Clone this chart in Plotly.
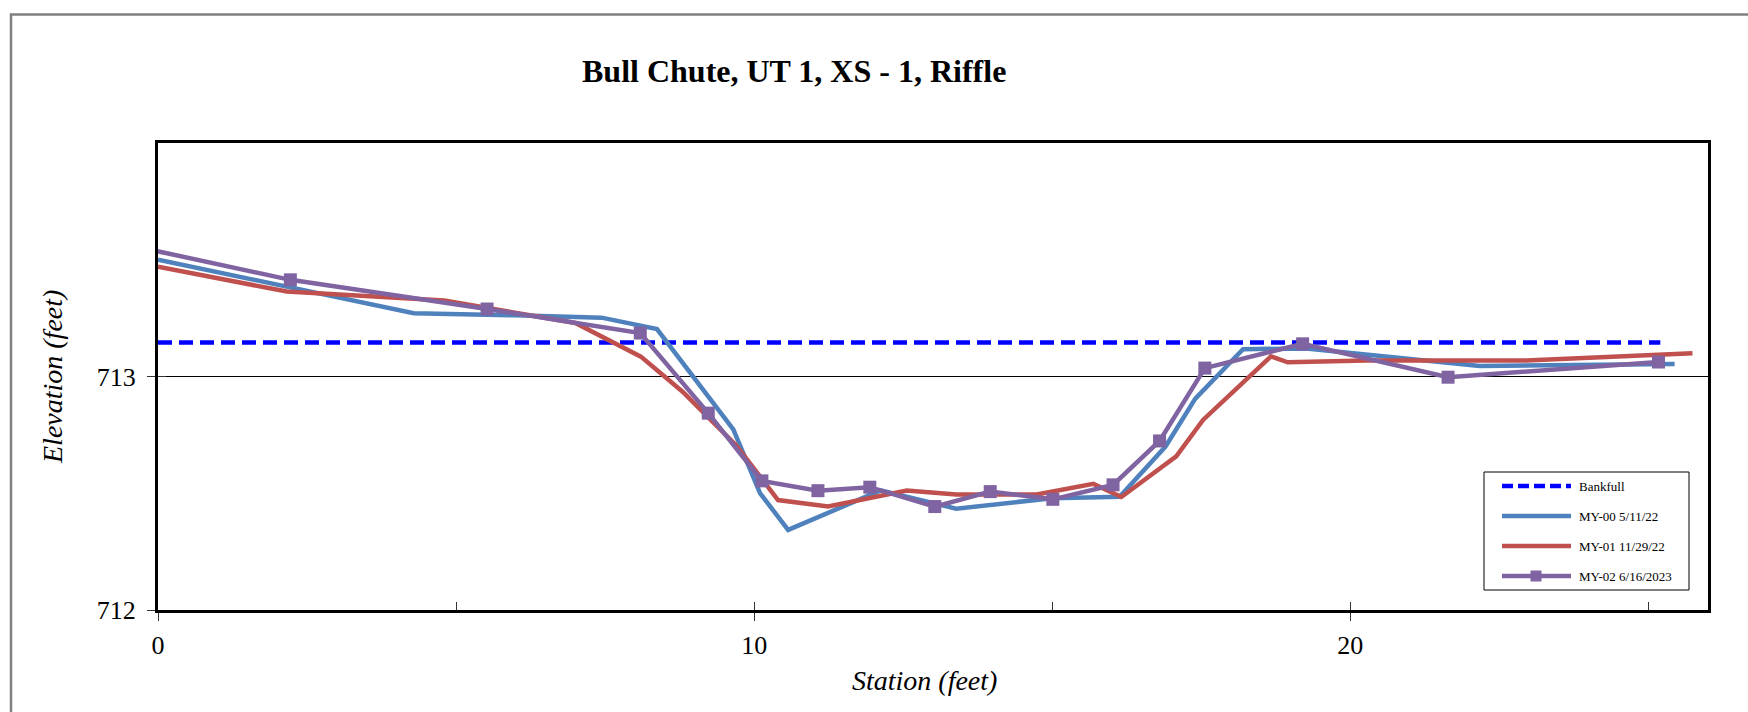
import plotly.graph_objects as go

# ---- survey data: station (ft) vs elevation (ft) ----
bankfull_station = [0.0, 25.2]
bankfull_elev = [713.146, 713.146]

my00_station = [0.0, 2.2, 4.29, 6.0, 7.44, 8.37, 9.65, 10.1, 10.57, 12.12, 13.39,
                15.0, 16.13, 16.9, 17.4, 18.2, 19.26, 22.17, 25.44]
my00_elev = [713.50, 713.383, 713.271, 713.262, 713.252, 713.203, 712.773, 712.50,
             712.343, 712.512, 712.434, 712.479, 712.485, 712.70, 712.905, 713.117,
             713.12, 713.045, 713.053]

my01_station = [0.0, 2.16, 4.8, 7.0, 8.1, 8.8, 9.7, 10.4, 11.24, 12.56, 13.39,
                14.74, 15.69, 16.16, 17.08, 17.53, 18.67, 18.95, 20.27, 22.95, 25.74]
my01_elev = [713.47, 713.364, 713.325, 713.229, 713.085, 712.935, 712.705, 712.471,
             712.443, 712.512, 712.495, 712.495, 712.540, 712.484, 712.658, 712.814,
             713.086, 713.061, 713.069, 713.069, 713.100]

my02_station = [-0.4, 2.22, 5.52, 8.09, 9.23, 10.13, 11.07, 11.94, 13.03, 13.96,
                15.01, 16.02, 16.8, 17.56, 19.2, 21.64, 25.17]
my02_elev = [713.558, 713.414, 713.289, 713.186, 712.843, 712.553, 712.511, 712.526,
             712.443, 712.507, 712.474, 712.536, 712.724, 713.036, 713.140, 712.997,
             713.062]

series_names = ["Bankfull", "MY-00 5/11/22", "MY-01 11/29/22", "MY-02 6/16/2023"]
series_colors = ["#0000FF", "#4F81BD", "#C0504D", "#8064A2"]

x_range = [0, 26]
y_range = [712, 714]
y_ticks = [712, 713]

SERIF = "Liberation Serif, Times New Roman, serif"

W, H = 1748, 712
ML, MR, MT, MB = 158, 40, 143, 102
PW, PH = W - ML - MR, H - MT - MB


def px(xp):
    return (xp - ML) / PW


def py(yp):
    return (H - MB - yp) / PH


fig = go.Figure()

fig.add_trace(go.Scatter(x=bankfull_station, y=bankfull_elev, mode="lines",
                         name=series_names[0],
                         line=dict(color=series_colors[0], width=4.5, dash="14px,7px")))
fig.add_trace(go.Scatter(x=my00_station, y=my00_elev, mode="lines",
                         name=series_names[1],
                         line=dict(color=series_colors[1], width=4.5)))
fig.add_trace(go.Scatter(x=my01_station, y=my01_elev, mode="lines",
                         name=series_names[2],
                         line=dict(color=series_colors[2], width=4.5)))
fig.add_trace(go.Scatter(x=my02_station, y=my02_elev, mode="lines+markers",
                         name=series_names[3],
                         line=dict(color=series_colors[3], width=4.5),
                         marker=dict(symbol="square", size=13, color=series_colors[3])))

# secondary axes carry the inside half of the crossing tick marks
fig.add_trace(go.Scatter(x=[None], y=[None], xaxis="x2", yaxis="y2",
                         showlegend=False, hoverinfo="skip"))

fig.update_layout(
    width=W, height=H,
    margin=dict(l=ML, r=MR, t=MT, b=MB, autoexpand=False),
    paper_bgcolor="white", plot_bgcolor="white",
    showlegend=False,
    font=dict(family=SERIF, color="black"),
    xaxis=dict(range=x_range, dtick=10, tick0=0, ticks="outside", ticklen=8,
               tickwidth=1, tickcolor="#333", showgrid=False, zeroline=False,
               showline=True, linewidth=3, linecolor="black", mirror=True,
               tickfont=dict(family=SERIF, size=26, color="black"),
               ticklabelstandoff=2),
    yaxis=dict(range=y_range, tickvals=y_ticks, ticks="outside", ticklen=8,
               tickwidth=1, tickcolor="#333", showgrid=True, gridcolor="black",
               gridwidth=1, zeroline=False,
               showline=True, linewidth=3, linecolor="black", mirror=True,
               tickfont=dict(family=SERIF, size=26, color="black"),
               ticklabelstandoff=6),
    xaxis2=dict(range=x_range, overlaying="x", side="bottom", dtick=5, tick0=0,
                ticks="inside", ticklen=8, tickwidth=1, tickcolor="#333",
                showticklabels=False, showgrid=False, zeroline=False, showline=False),
    yaxis2=dict(range=y_range, overlaying="y", side="left", tickvals=y_ticks,
                ticks="inside", ticklen=8, tickwidth=1, tickcolor="#333",
                showticklabels=False, showgrid=False, zeroline=False, showline=False),
)

annotations = [
    dict(text="<b>Bull Chute, UT 1, XS - 1, Riffle</b>", x=px(794), y=py(71),
         xref="paper", yref="paper", xanchor="center", yanchor="middle",
         showarrow=False, font=dict(family=SERIF, size=32, color="black")),
    dict(text="<i>Elevation (feet)</i>", x=px(52), y=py(377), textangle=-90,
         xref="paper", yref="paper", xanchor="center", yanchor="middle",
         showarrow=False, font=dict(family=SERIF, size=28, color="black")),
    dict(text="<i>Station (feet)</i>", x=px(924), y=py(680),
         xref="paper", yref="paper", xanchor="center", yanchor="middle",
         showarrow=False, font=dict(family=SERIF, size=28, color="black")),
]

shapes = [
    # outer chart frame
    dict(type="rect", xref="paper", yref="paper", x0=px(11), x1=px(1800),
         y0=py(800), y1=py(14.5), line=dict(color="#808080", width=2.5),
         layer="below"),
    # legend frame
    dict(type="rect", xref="paper", yref="paper", x0=px(1484), x1=px(1689),
         y0=py(590), y1=py(472), line=dict(color="black", width=1),
         fillcolor="white"),
]

legend_rows = [486, 516, 546, 576]
for i, (name, color) in enumerate(zip(series_names, series_colors)):
    yy = py(legend_rows[i])
    shapes.append(dict(type="line", xref="paper", yref="paper",
                       x0=px(1502), x1=px(1571), y0=yy, y1=yy,
                       line=dict(color=color, width=4.5,
                                 dash="11px,5px" if i == 0 else "solid")))
    if i == 3:
        shapes.append(dict(type="rect", xref="paper", yref="paper",
                           x0=px(1530.5), x1=px(1541.5),
                           y0=py(legend_rows[i] + 5.5), y1=py(legend_rows[i] - 5.5),
                           line=dict(width=0), fillcolor=color))
    annotations.append(dict(text=name, x=px(1577), y=yy, xref="paper", yref="paper",
                            xanchor="left", yanchor="middle", showarrow=False,
                            font=dict(family=SERIF, size=13, color="black")))

fig.update_layout(annotations=annotations, shapes=shapes)

fig.write_html("out.html")
